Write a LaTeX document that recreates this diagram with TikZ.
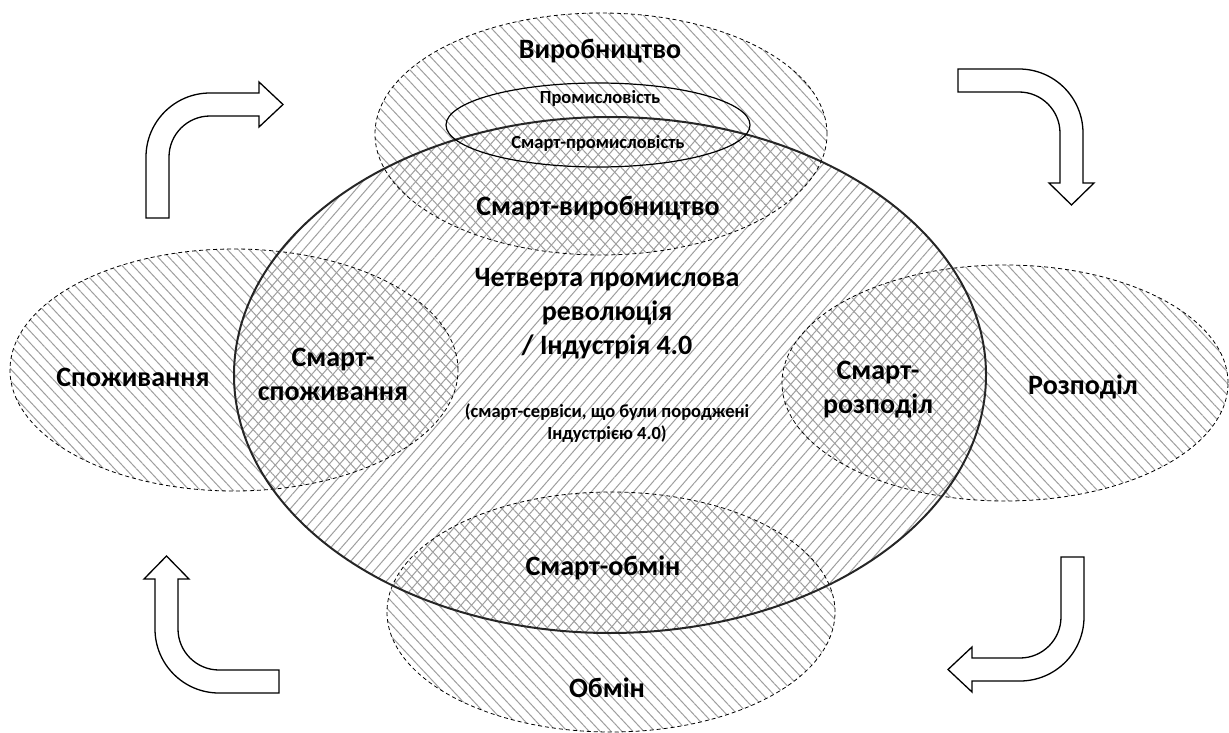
\documentclass[tikz,border=0pt]{standalone}
\usepackage{fontspec}
\setmainfont{Carlito}
\usetikzlibrary{patterns.meta}
\tikzset{
  hatchNW/.style={pattern={Lines[angle=-47,distance=8pt,line width=1pt]},pattern color=black!38},
  hatchNE/.style={pattern={Lines[angle=49,distance=8pt,line width=1pt]},pattern color=black!38},
  dashedline/.style={draw=black,line width=0.8pt,dash pattern=on 4pt off 3pt},
  bigline/.style={draw=black!85,line width=2pt},
  smallline/.style={draw=black,line width=1.2pt},
  bent/.style={draw=black,fill=white,line width=1.3pt,line join=miter},
  bigtxt/.style={font=\bfseries\fontsize{28}{34}\selectfont,align=center,inner sep=0pt},
  smalltxt/.style={font=\bfseries\fontsize{18.5}{22}\selectfont,align=center,inner sep=0pt}
}
\begin{document}
\begin{tikzpicture}[x=1pt,y=-1pt]
\useasboundingbox (0,0) rectangle (1229,733);
% hatch fills
\path[hatchNW] (601,134) ellipse [x radius=226pt,y radius=121pt];
\path[hatchNW] (234,370) ellipse [x radius=224pt,y radius=121pt];
\path[hatchNW] (1005,383) ellipse [x radius=223pt,y radius=118pt];
\path[hatchNW] (611,612) ellipse [x radius=224pt,y radius=120pt];
\path[hatchNE] (610,375) ellipse [x radius=376pt,y radius=258pt];
% outlines
\path[dashedline] (601,134) ellipse [x radius=226pt,y radius=121pt];
\path[dashedline] (234,370) ellipse [x radius=224pt,y radius=121pt];
\path[dashedline] (1005,383) ellipse [x radius=223pt,y radius=118pt];
\path[dashedline] (611,612) ellipse [x radius=224pt,y radius=120pt];
\path[bigline] (610,375) ellipse [x radius=376pt,y radius=258pt];
\path[smallline] (598,125) ellipse [x radius=152pt,y radius=42pt];
% bent arrows
\path[bent] (146,218) -- (146,157) .. controls (146,121.7) and (174.7,93) .. (210,93) -- (259,93) -- (259,82) -- (283,104.5) -- (259,127) -- (259,116) -- (210,116) .. controls (187.4,116) and (169,134.4) .. (169,157) -- (169,218) -- cycle;
\path[bent] (958,69) -- (1019,69) .. controls (1054.3,69) and (1083,97.7) .. (1083,133) -- (1083,183) -- (1094,183) -- (1071.5,205) -- (1049,183) -- (1060,183) -- (1060,133) .. controls (1060,110.4) and (1041.6,92) .. (1019,92) -- (958,92) -- cycle;
\path[bent] (279,693) -- (219,693) .. controls (183.7,693) and (155,664.3) .. (155,629) -- (155,579) -- (144,579) -- (166.5,556) -- (189,579) -- (178,579) -- (178,629) .. controls (178,651.6) and (196.4,670) .. (219,670) -- (279,670) -- cycle;
\path[bent] (1061,557) -- (1084,557) -- (1084,617) .. controls (1084,652.3) and (1055.3,681) .. (1020,681) -- (972,681) -- (972,692) -- (948,669.5) -- (972,647) -- (972,658) -- (1020,658) .. controls (1042.6,658) and (1061,639.6) .. (1061,617) -- cycle;
% texts
\node[bigtxt] (prod) at (600,51) {Виробництво};
\node[smalltxt] (ind) at (600,98) {Промисловість};
\node[smalltxt] (sind) at (598,143) {Смарт-промисловість};
\node[bigtxt] (sprod) at (598,208) {Смарт-виробництво};
\node[bigtxt] (rev) at (607,314) {Четверта промислова\\революція\\/ Індустрія 4.0};
\node[smalltxt] (serv) at (607,423) {(смарт-сервіси, що були породжені\\Індустрією 4.0)};
\node[bigtxt] (cons) at (133,377) {Споживання};
\node[bigtxt] (scons) at (333,374) {Смарт-\\споживання};
\node[bigtxt] (dist) at (1083,387) {Розподіл};
\node[bigtxt] (sdist) at (878,390) {Смарт-\\розподіл};
\node[bigtxt] (sexch) at (603,568) {Смарт-обмін};
\node[bigtxt] (exch) at (607,688) {Обмін};
\end{tikzpicture}
\end{document}
